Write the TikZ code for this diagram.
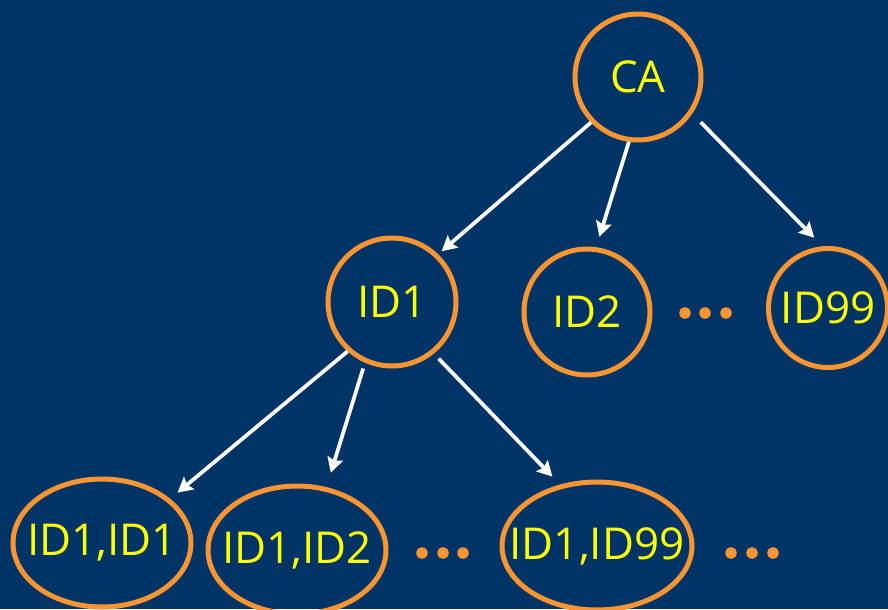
\documentclass[tikz,border=0pt]{standalone}
\usepackage{fontspec}
\setsansfont{Open Sans}
\usetikzlibrary{shapes.geometric,arrows.meta}

\definecolor{slide}{RGB}{0,51,102}
\definecolor{ring}{RGB}{250,150,50}
\definecolor{idtext}{RGB}{255,255,0}

\tikzset{
  key/.style={circle, draw=ring, line width=0.1cm, text=idtext, inner sep=0pt,
    minimum size=2.52cm, font=\sffamily\fontsize{25}{30}\selectfont},
  subkey/.style={key, ellipse, minimum width=3.56cm, minimum height=2.56cm},
  link/.style={->, white, line width=0.075cm},
}

\begin{document}
\begin{tikzpicture}[x=0.02cm, y=-0.02cm,
    >={Stealth[length=0.3cm,width=0.32cm,inset=0.05cm]}]
  \useasboundingbox[fill=slide] (0,0) rectangle (888,609);

  % root and first level
  \node[key] (ca) at (638,77) {CA};
  \node[key, minimum size=2.56cm] (id1) at (392,302) {ID1};
  \node[key] (id2) at (587,312) {ID2};
  \node[key, minimum size=2.38cm] (id99) at (828,308) {ID99};

  % second level under ID1
  \node[subkey] (l1) at (102,543) {\makebox[0pt]{ID1,ID1}};
  \node[subkey] (l2) at (297,550) {\makebox[0pt]{ID1,ID2}};
  \node[subkey, minimum width=3.8cm] (l99) at (597,546) {\makebox[0pt]{ID1,ID99}};

  \draw[link, shorten >=0.09cm] (ca.224) -- (id1.46);
  \draw[link, shorten >=0.22cm] (ca.262) -- (id2.82);
  \draw[link, shorten <=0.24cm, shorten >=0.24cm] (ca.326) -- (id99.95);
  \draw[link, shorten >=0.19cm] (id1.228) -- (l1.33);
  \draw[link, shorten <=0.12cm, shorten >=0.3cm] (id1.246) -- (l2.65);
  \draw[link, shorten <=0.14cm, shorten >=0.22cm] (id1.309) -- (l99.121);

  % the dots
  \foreach \x/\y in {685/313, 705/313, 726/313,
                     422/553, 443/553, 463/553,
                     731/553, 752/553, 773/553}
    \fill[ring] (\x,\y) circle (0.115cm);
\end{tikzpicture}
\end{document}
